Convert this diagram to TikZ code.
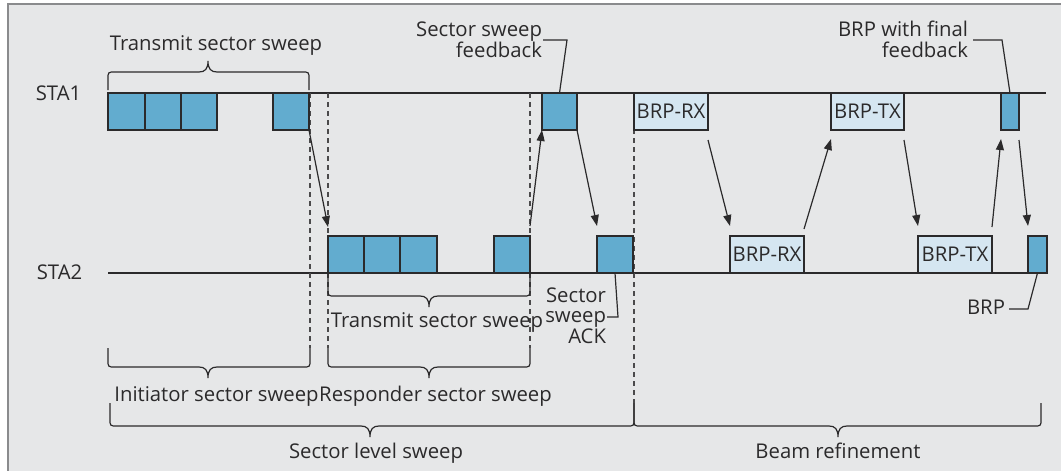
\documentclass[tikz,border=0pt]{standalone}
\usepackage{fontspec}
\setmainfont{Open Sans}
\usetikzlibrary{arrows.meta}
\definecolor{bg}{HTML}{E6E7E8}
\definecolor{frame}{HTML}{8A8B8D}
\definecolor{dk}{HTML}{62ACCF}
\definecolor{lt}{HTML}{D5E6F1}
\definecolor{ink}{HTML}{2B2A2B}
\newcommand\Brace[6]{%
  \draw[ln] ({#1},{#3}) -- ({#1},{#4-(#6)*7}) .. controls ({#1},{#4}) .. ({#1+7},{#4})
   -- ({#5-9},{#4}) .. controls ({#5-3},{#4}) and ({#5},{#4+(#6)*3}) .. ({#5},{#4+(#6)*11})
   .. controls ({#5},{#4+(#6)*3}) and ({#5+3},{#4}) .. ({#5+9},{#4})
   -- ({#2-7},{#4}) .. controls ({#2},{#4}) .. ({#2},{#4-(#6)*7}) -- ({#2},{#3});}
\begin{document}
\begin{tikzpicture}[x=1pt,y=-1pt,
  every node/.style={text=ink, font=\fontsize{20.3}{21}\selectfont},
  ln/.style={draw=ink, line width=1.2pt},
  dsh/.style={draw=ink!85, line width=1.2pt, dash pattern=on 5pt off 4pt},
  arr/.style={draw=ink, line width=1.2pt, -{Triangle[length=11pt,width=8pt]}},
  dbox/.style={draw=ink, line width=1.3pt, fill=dk, inner sep=0pt, outer sep=0pt, anchor=north west, minimum height=37pt},
  lbox/.style={draw=ink, line width=1.3pt, fill=lt, inner sep=0pt, outer sep=0pt, anchor=north west, minimum height=37pt},
  lbl/.style={inner sep=0pt, outer sep=0pt},
]
\useasboundingbox (0,0) rectangle (1061,471);
\fill[white] (0,0) rectangle (1061,471);
\fill[bg] (8,4) rectangle (1061,471);
\draw[frame, line width=1.5pt] (8,471) -- (8,4) -- (1061,4);

% timelines
\coordinate (s1a) at (108,93);
\coordinate (s1b) at (1046,93);
\coordinate (s2a) at (108,273);
\coordinate (s2b) at (1047,273);
\draw[ln] (s1a) -- (s1b);
\draw[ln] (s2a) -- (s2b);

\node[lbl, anchor=base] (sta1) at (58.5,100) {STA1};
\node[lbl, anchor=base] (sta2) at (59.5,279) {STA2};

% dashed separators
\coordinate (d1t) at (310,93);  \coordinate (d1b) at (310,348);
\coordinate (d2t) at (328,93);  \coordinate (d2b) at (328,348);
\coordinate (d3t) at (530,93);  \coordinate (d3b) at (530,348);
\coordinate (d4t) at (634,93);  \coordinate (d4b) at (634,403);
\draw[dsh] (d1t) -- (d1b);
\draw[dsh] (d2t) -- (d2b);
\draw[dsh] (d3t) -- (d3b);
\draw[dsh] (d4t) -- (d4b);

% STA1 boxes
\node[dbox, minimum width=37pt] (a1) at (108,93) {};
\node[dbox, minimum width=36pt] (a2) at (145,93) {};
\node[dbox, minimum width=36pt] (a3) at (181,93) {};
\node[dbox, minimum width=36pt] (a4) at (273,93) {};
\node[dbox, minimum width=35pt] (fb) at (542,93) {};
\node[lbox, minimum width=74pt] (rx1) at (634,93) {};
\node[lbl] at (rx1.center) {BRP-RX};
\node[lbox, minimum width=73pt] (tx1) at (831,93) {};
\node[lbl] at (tx1.center) {BRP-TX};
\node[dbox, minimum width=18pt] (f1) at (1001,93) {};

% STA2 boxes
\node[dbox, minimum width=36pt] (b1) at (328,236) {};
\node[dbox, minimum width=36pt] (b2) at (364,236) {};
\node[dbox, minimum width=37pt] (b3) at (400,236) {};
\node[dbox, minimum width=36pt] (b4) at (494,236) {};
\node[dbox, minimum width=36pt] (ak) at (597,236) {};
\node[lbox, minimum width=74pt] (rx2) at (730,236) {};
\node[lbl] at (rx2.center) {BRP-RX};
\node[lbox, minimum width=74pt] (tx2) at (918,236) {};
\node[lbl] at (tx2.center) {BRP-TX};
\node[dbox, minimum width=19pt] (f2) at (1028,236) {};

% arrows
\draw[arr] (a4.south east) -- ([yshift=9pt]b1.north west);
\draw[arr] ([yshift=10pt]b4.north east) -- (fb.south west);
\draw[arr] (fb.south east) -- ([yshift=10pt]ak.north west);
\draw[arr] ([yshift=-10pt]rx1.south east) -- ([yshift=10pt]rx2.north west);
\draw[arr] ([yshift=7pt]rx2.north east) -- ([yshift=-9pt]tx1.south west);
\draw[arr] ([yshift=-10pt]tx1.south east) -- ([yshift=10pt]tx2.north west);
\draw[arr] ([yshift=9pt]tx2.north east) -- ([yshift=-9pt]f1.south west);
\draw[arr] ([yshift=-10pt]f1.south east) -- ([yshift=10pt]f2.north west);

% callouts (base anchor = last line)
\node[lbl, anchor=base east, align=right] (fbl) at (542,57) {Sector sweep\\feedback};
\coordinate (k1) at (567,40);
\draw[ln] ([xshift=1pt]fbl.east |- k1) -- (k1) -- (fb.north);

\node[lbl, anchor=base east, align=right] (bwf) at (968,57) {BRP with final\\feedback};
\coordinate (k2) at (1002,40);
\draw[ln] ([xshift=5pt]bwf.east |- k2) -- (k2) -- (f1.north);

\node[lbl, anchor=base east, align=right, font=\fontsize{20.3}{20.5}\selectfont] (ackl) at (606,343) {Sector\\sweep\\ACK};
\coordinate (k3) at (618,317);
\draw[ln] ([xshift=1pt]ackl.east |- k3) -- (k3) -- (ak.south);

\node[lbl, anchor=base east] (brpl) at (1005,314) {BRP};
\coordinate (k4) at (1028,309);
\draw[ln] ([xshift=4pt]brpl.east |- k4) -- (k4) -- (f2.south);

% braces
\Brace{108}{309}{90}{72}{208}{-1}
\node[lbl, anchor=base] (t1) at (216,50) {Transmit sector sweep};
\Brace{328}{530}{273}{296}{429}{1}
\node[lbl, anchor=base] (t2) at (437,327) {Transmit sector sweep};
\Brace{108}{310}{348}{367}{208}{1}
\node[lbl, anchor=base] (iss) at (216.5,401) {Initiator sector sweep};
\Brace{328}{530}{348}{367}{429}{1}
\node[lbl, anchor=base] (rss) at (435.5,401) {Responder sector sweep};
\Brace{110}{634}{403}{426}{370}{1}
\node[lbl, anchor=base] (sls) at (376,458) {Sector level sweep};
\Brace{634}{1041}{403}{426}{838}{1}
\node[lbl, anchor=base] (br) at (838,458) {Beam refinement};
\end{tikzpicture}
\end{document}
